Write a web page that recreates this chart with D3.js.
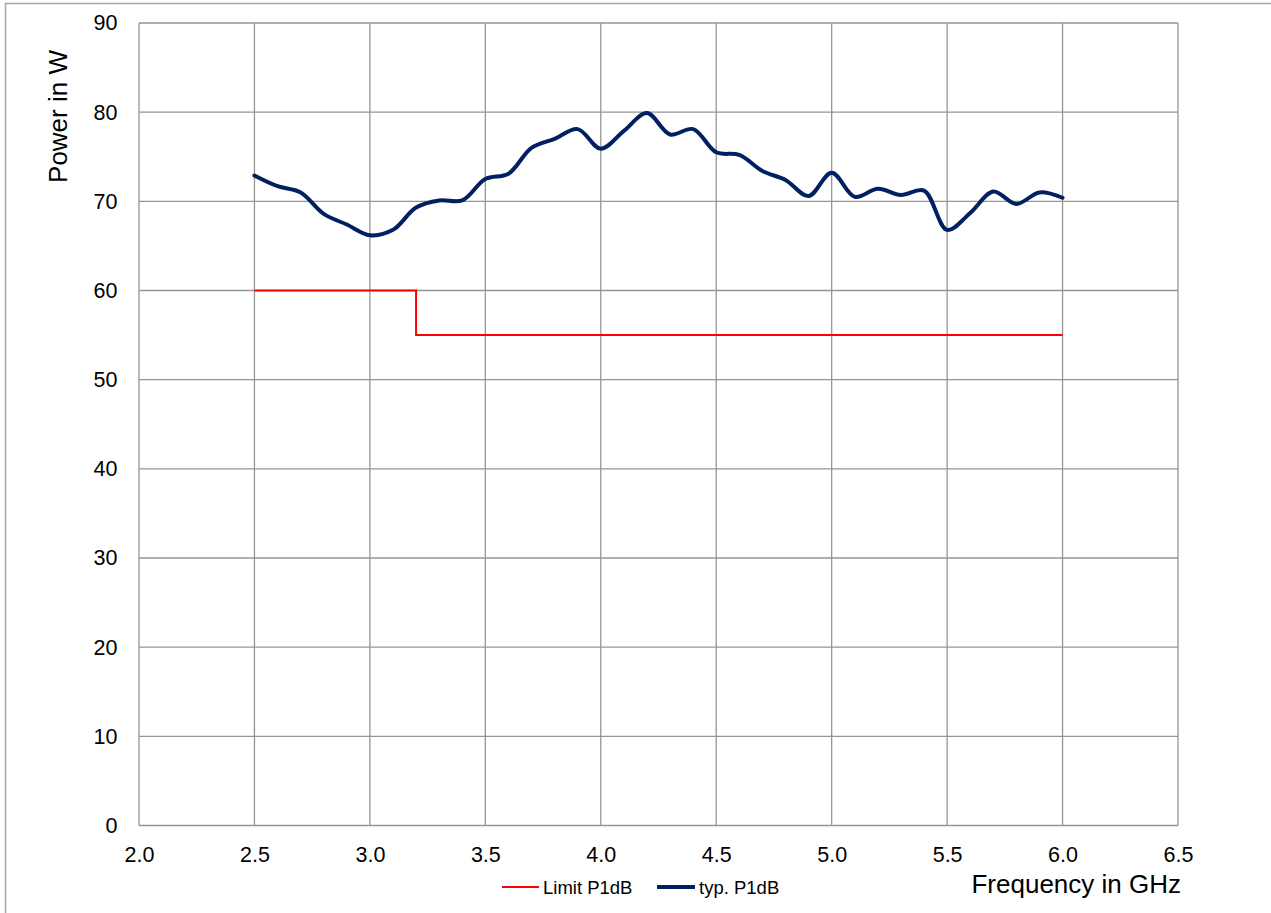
<!DOCTYPE html>
<html>
<head>
<meta charset="utf-8">
<script src="https://cdn.jsdelivr.net/npm/d3@7"></script>
<style>
  html, body { margin: 0; padding: 0; background: #fff; }
  svg { display: block; font-family: "Liberation Sans", Arial, sans-serif; }
</style>
</head>
<body>
<svg id="chart" width="1271" height="913"></svg>
<script>
// ---- data ----
const freqTyp = [2.5,2.6,2.7,2.8,2.9,3.0,3.1,3.2,3.3,3.4,3.5,3.6,3.7,3.8,3.9,4.0,4.1,4.2,4.3,4.4,4.5,4.6,4.7,4.8,4.9,5.0,5.1,5.2,5.3,5.4,5.5,5.6,5.7,5.8,5.9,6.0];
const powerTyp = [72.9,71.7,71.0,68.6,67.4,66.2,66.8,69.3,70.1,70.1,72.5,73.1,76.0,77.0,78.1,75.9,77.9,79.9,77.5,78.1,75.5,75.2,73.4,72.4,70.6,73.2,70.5,71.4,70.7,71.2,66.8,68.7,71.1,69.7,71.0,70.4];
const freqLimit = [2.5,3.2,3.2,6.0];
const powerLimit = [60,60,55,55];
const xTicks = [2.0,2.5,3.0,3.5,4.0,4.5,5.0,5.5,6.0,6.5];
const yTicks = [0,10,20,30,40,50,60,70,80,90];
const seriesNames = ["Limit P1dB","typ. P1dB"];
const xTitle = "Frequency in GHz";
const yTitle = "Power in W";

// ---- layout ----
const svg = d3.select("#chart");
const L = 139, R = 1178, T = 23, B = 825.5;
const x = d3.scaleLinear().domain([2.0,6.5]).range([L,R]);
const y = d3.scaleLinear().domain([0,90]).range([B,T]);
const gridColor = "#959595";
const FONT = "Liberation Sans, Arial, sans-serif";

// outer frame (extends past right/bottom edge)
svg.append("rect").attr("x",5.5).attr("y",3.5).attr("width",1300).attr("height",1000)
  .attr("fill","none").attr("stroke","#a6a6a6").attr("stroke-width",1.5);

// grid
const g = svg.append("g");
g.selectAll("line.vx").data(xTicks).join("line")
  .attr("x1",d=>x(d)).attr("x2",d=>x(d)).attr("y1",T).attr("y2",B)
  .attr("stroke",gridColor).attr("stroke-width",1.3);
g.selectAll("line.hy").data(yTicks).join("line")
  .attr("y1",d=>y(d)).attr("y2",d=>y(d)).attr("x1",L).attr("x2",R)
  .attr("stroke",gridColor).attr("stroke-width",1.3);

// axes labels via d3 axes (lines hidden)
const xAxis = svg.append("g").attr("transform",`translate(0,${B})`)
  .call(d3.axisBottom(x).tickValues(xTicks).tickFormat(d3.format(".1f")).tickSize(0));
xAxis.select(".domain").remove();
xAxis.selectAll("text").attr("font-size",21.5).attr("fill","#000").attr("font-family",FONT)
  .attr("y",36.5).attr("dy",0);

const yAxis = svg.append("g").attr("transform",`translate(${L},0)`)
  .call(d3.axisLeft(y).tickValues(yTicks).tickFormat(d3.format("d")).tickSize(0).tickPadding(21.5));
yAxis.select(".domain").remove();
yAxis.selectAll("text").attr("font-size",21.5).attr("fill","#000").attr("font-family",FONT);

// limit line
const limitData = freqLimit.map((f,i)=>[f,powerLimit[i]]);
svg.append("path").datum(limitData)
  .attr("d", d3.line().x(d=>x(d[0])).y(d=>y(d[1])))
  .attr("fill","none").attr("stroke","#ff0000").attr("stroke-width",2);

// typical line
const typData = freqTyp.map((f,i)=>[f,powerTyp[i]]);
svg.append("path").datum(typData)
  .attr("d", d3.line().x(d=>x(d[0])).y(d=>y(d[1])).curve(d3.curveCatmullRom.alpha(0.5)))
  .attr("fill","none").attr("stroke","#002060").attr("stroke-width",4)
  .attr("stroke-linejoin","round").attr("stroke-linecap","round");

// axis titles
svg.append("text").attr("transform","translate(67,116.5) rotate(-90)")
  .attr("text-anchor","middle").attr("font-size",26).attr("fill","#000").text(yTitle);
svg.append("text").attr("x",1181).attr("y",893).attr("text-anchor","end")
  .attr("font-size",26).attr("fill","#000").text(xTitle);

// legend
const leg = svg.append("g");
leg.append("line").attr("x1",502).attr("x2",539).attr("y1",887).attr("y2",887)
  .attr("stroke","#ff0000").attr("stroke-width",2);
leg.append("text").attr("x",543).attr("y",894).attr("font-size",18.5).attr("fill","#000").text(seriesNames[0]);
leg.append("line").attr("x1",657).attr("x2",695).attr("y1",887).attr("y2",887)
  .attr("stroke","#002060").attr("stroke-width",4);
leg.append("text").attr("x",699).attr("y",894).attr("font-size",18.5).attr("fill","#000").text(seriesNames[1]);
</script>
</body>
</html>
